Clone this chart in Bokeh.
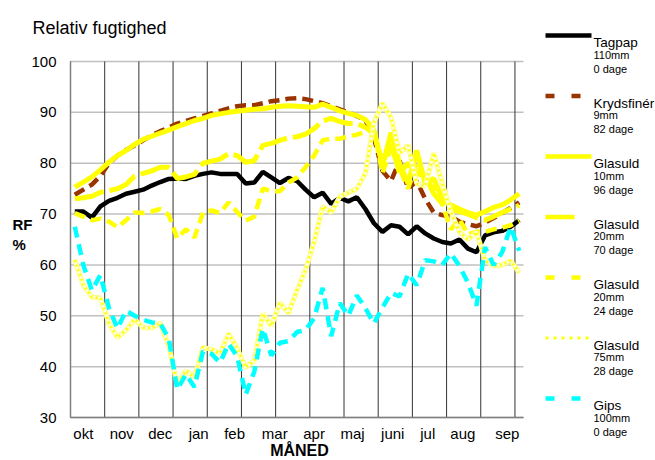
from bokeh.plotting import figure
from bokeh.models import FixedTicker, Range1d, LinearAxis
from bokeh.embed import file_html
from bokeh.resources import INLINE
from bokeh.core.properties import value

FONT = "Liberation Sans"

# ---- data (weekly readings, Oct -> Sep) ----
weeks = list(range(53))
tagpap = [70.5,70.5,69.3,71.5,72.6,73.2,74.0,74.4,74.8,75.6, 76.3,76.9,77.0,76.9,77.5,77.9,78.2,77.9,77.9,77.9,
          76.0,76.2,78.3,77.2,76.1,77.1,76.5,74.8,73.3,74.2, 72.0,73.2,72.5,73.3,71.0,68.2,66.5,67.8,67.5,66.0,
          67.6,66.2,65.2,64.5,64.2,65.0,63.2,62.5,65.8,66.4, 66.7,67.5,68.8]
krydsfiner = [73.8,74.8,75.8,77.5,80.0,81.5,82.6,83.5,84.5,85.5, 86.3,87.0,87.8,88.3,88.8,89.3,89.8,90.3,90.8,91.2,
              91.4,91.4,91.8,92.2,92.4,92.7,92.8,92.6,92.2,91.8, 91.2,90.6,90.0,89.3,88.5,85.0,78.5,76.5,80.5,75.0,
              76.5,73.0,70.3,69.8,69.5,68.5,68.0,67.6,68.3,69.2, 70.2,71.2,72.3]
glasuld10 = [75.3,76.3,77.3,78.7,80.2,81.5,82.5,83.7,84.7,85.3, 85.9,86.5,87.2,87.8,88.4,88.8,89.4,89.7,90.0,90.2,
             90.4,90.6,90.7,91.0,91.2,91.3,91.2,91.1,91.0,91.6, 91.0,90.3,89.8,89.4,88.6,86.5,79.5,86.0,80.0,76.0,
             82.5,76.0,77.0,73.0,71.8,71.0,70.3,69.8,70.5,71.3, 71.8,72.8,74.0]
glasuld20_70 = [73.0,73.2,73.5,74.3,74.6,75.0,75.8,77.5,78.0,78.5, 79.2,79.2,77.0,77.3,77.8,80.0,80.4,80.8,81.9,81.5,
                80.2,80.5,83.5,83.9,84.5,85.0,85.2,85.7,86.8,88.3, 88.8,88.2,87.8,87.8,87.0,86.0,80.0,84.0,78.0,80.0,
                78.0,77.5,74.0,72.0,71.0,70.5,70.0,69.3,68.8,69.5, 70.3,71.0,71.7]
glasuld20_24 = [70.2,69.5,68.8,69.1,68.5,67.4,68.8,70.3,70.2,70.5, 71.0,69.8,65.2,67.0,65.4,70.3,70.7,70.2,72.3,70.4,
                68.7,69.5,75.0,74.5,74.5,76.2,77.2,79.2,81.5,84.5, 84.8,84.8,85.3,85.6,86.2,86.5,78.0,83.0,79.0,75.0,
                80.0,77.0,75.0,72.0,67.0,69.0,66.0,66.5,66.5,67.0, 67.3,67.8,68.7]
glasuld75 = [61.0,56.0,53.7,53.5,48.5,45.7,47.2,49.3,47.7,47.6, 48.6,44.0,36.5,39.2,37.9,43.8,43.4,42.6,46.5,43.6,
             39.8,41.2,50.4,48.0,52.6,50.5,55.0,59.0,64.5,71.5, 70.3,73.4,74.2,75.0,78.0,88.0,91.8,89.0,82.0,83.5,
             76.0,75.5,82.0,76.0,70.5,66.5,65.0,66.5,61.0,59.8, 60.0,60.8,58.5]
gips = [67.5,60.0,55.0,58.0,51.5,47.5,51.0,50.0,49.2,48.7, 48.5,45.5,35.5,38.5,36.0,43.0,42.5,40.8,44.5,42.0,
        34.5,39.0,47.5,42.2,44.7,45.0,46.8,47.2,49.5,55.5, 46.0,52.5,50.0,54.0,51.5,48.5,51.6,54.5,53.8,58.3,
        56.0,60.9,60.7,60.0,62.3,59.8,56.5,52.0,63.5,60.0, 62.5,67.5,62.8]

months = ["okt", "nov", "dec", "jan", "feb", "mar", "apr", "maj", "juni", "jul", "aug", "sep"]
month_pos = [1.5, 6.0, 10.5, 15.0, 19.2, 23.9, 28.5, 33.0, 37.7, 41.8, 45.9, 51.1]
month_lines = list(range(0, 53, 4))
y_ticks = [30, 40, 50, 60, 70, 80, 90, 100]

names = ["Tagpap", "Krydsfinér", "Glasuld", "Glasuld", "Glasuld", "Glasuld", "Gips"]
thick = ["110mm", "9mm", "10mm", "20mm", "20mm", "75mm", "100mm"]
days = ["0 dage", "82 dage", "96 dage", "70 dage", "24 dage", "28 dage", "0 dage"]

xs = [w + 0.5 for w in weeks]

# ---- layout geometry (pixels) ----
WID, HEI = 655, 460
FX0, FX1, FY0, FY1 = 70, 523, 417, 61     # plot area: x 0..53, y 30..100
XS = (FX1 - FX0) / 53.0
YS = (FY0 - FY1) / 70.0


def dx(px):
    return (px - FX0) / XS


def dy(py):
    return 30 + (FY0 - py) / YS


p = figure(width=WID, height=HEI, x_range=Range1d(dx(0), dx(WID)), y_range=Range1d(dy(HEI), dy(0)),
           output_backend="svg", toolbar_location=None, title=None,
           x_axis_location=None, y_axis_location=None, min_border=0)
p.outline_line_color = None
p.grid.visible = False

# grid lines
p.segment(x0=[0] * len(y_ticks), x1=[53] * len(y_ticks), y0=y_ticks, y1=y_ticks,
          line_color="#C0C0C0", line_width=1.5)
p.segment(x0=month_lines, x1=month_lines, y0=[30] * len(month_lines), y1=[100] * len(month_lines),
          line_color="#333333", line_width=1)

# axes
yax = LinearAxis(fixed_location=0, bounds=(30, 100), ticker=FixedTicker(ticks=y_ticks))
yax.axis_line_color = "#808080"
yax.axis_line_width = 1.5
yax.major_tick_line_color = None
yax.minor_tick_line_color = None
yax.major_label_standoff = 8
yax.major_label_text_font = FONT
yax.major_label_text_font_size = "15px"
yax.major_label_text_color = "black"
p.add_layout(yax, "left")

xax = LinearAxis(fixed_location=30, bounds=(0, 53), ticker=FixedTicker(ticks=month_pos))
xax.major_label_overrides = {m: t for m, t in zip(month_pos, months)}
xax.axis_line_color = "#808080"
xax.axis_line_width = 1.5
xax.major_tick_line_color = None
xax.minor_tick_line_color = None
xax.major_label_standoff = 1
xax.major_label_text_font = FONT
xax.major_label_text_font_size = "15px"
xax.major_label_text_color = "black"
p.add_layout(xax, "below")

# series
W = 4.5
p.line(xs, tagpap, line_color="black", line_width=W)
p.line(xs, krydsfiner, line_color="#993300", line_width=W, line_dash="11 6")
p.line(xs, glasuld10, line_color="#FFFF00", line_width=W + 0.5)
p.line(xs, glasuld20_70, line_color="#FFFF00", line_width=W + 0.5, line_dash="30 6")
p.line(xs, glasuld20_24, line_color="#FFFF00", line_width=W, line_dash="11 6")
p.line(xs, glasuld75, line_color="#FFFF80", line_width=5)
p.line(xs, glasuld75, line_color="#FFFFE0", line_width=2.5)
p.line(xs, glasuld75, line_color="#FFFF00", line_width=2.5, line_dash="2 3")
p.line(xs, gips, line_color="#00FFFF", line_width=W, line_dash="11 7")

# title, axis titles
p.text(x=[dx(32)], y=[dy(27)], text=["Relativ fugtighed"], text_font=value(FONT), text_font_size="18px",
       text_baseline="alphabetic", text_color="black")
p.text(x=[dx(12), dx(12)], y=[dy(224), dy(244)], text=["RF", "%"], text_font=value(FONT),
       text_font_size="15px", text_font_style="bold", text_baseline="alphabetic", text_color="black")
p.text(x=[dx(299)], y=[dy(450)], text=["MÅNED"], text_font=value(FONT), text_font_size="16px",
       text_font_style="bold", text_align="center", text_baseline="middle", text_color="black")

# legend
base = [42 + 60.5 * k for k in range(7)]
sw_x = [dx(545), dx(591)]
styles = [
    dict(line_color="black", line_width=W),
    dict(line_color="#993300", line_width=W, line_dash="9 17"),
    dict(line_color="#FFFF00", line_width=W),
    dict(line_color="#FFFF00", line_width=W, line_dash="29 17"),
    dict(line_color="#FFFF00", line_width=W, line_dash="9 17"),
    dict(line_color="#FFFF00", line_width=3, line_dash="3 5"),
    dict(line_color="#00FFFF", line_width=W, line_dash="9 17"),
]
for k, st in enumerate(styles):
    yy = dy(base[k] - 7)
    p.line(sw_x, [yy, yy], **st)

lx = [dx(593)] * 7
p.text(x=lx, y=[dy(b) for b in base], text=names, text_font=value(FONT), text_font_size="13.5px",
       text_baseline="alphabetic", text_color="black")
p.text(x=lx, y=[dy(b + 12) for b in base], text=thick, text_font=value(FONT), text_font_size="11px",
       text_baseline="alphabetic", text_color="black")
p.text(x=lx, y=[dy(b + 26) for b in base], text=days, text_font=value(FONT), text_font_size="11px",
       text_baseline="alphabetic", text_color="black")

open("out.html", "w").write(file_html(p, INLINE))
